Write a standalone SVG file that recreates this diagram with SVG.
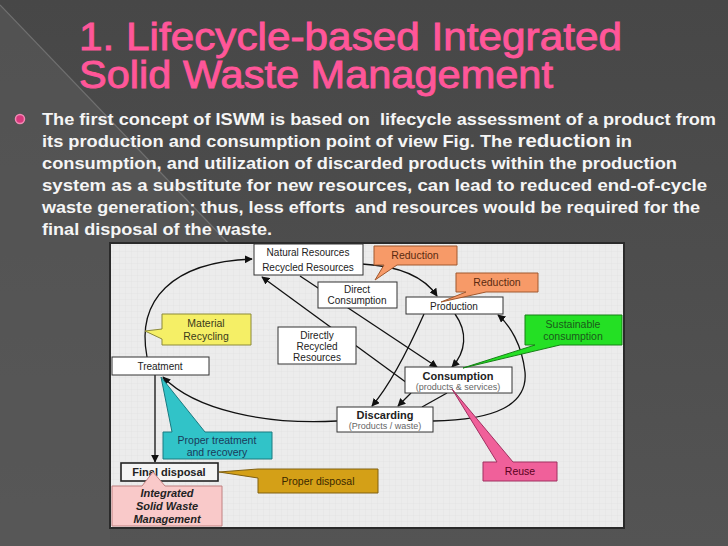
<svg xmlns="http://www.w3.org/2000/svg" width="728" height="546" viewBox="0 0 728 546">
<defs>
  <linearGradient id="bg" x1="0" y1="0" x2="0" y2="1">
    <stop offset="0" stop-color="#474747"/>
    <stop offset="1" stop-color="#545454"/>
  </linearGradient>
  <pattern id="grid" width="6" height="6" patternUnits="userSpaceOnUse">
    <path d="M6,0 V6 M0,6 H6" fill="none" stroke="#dedede" stroke-width="0.6"/>
  </pattern>
  <marker id="ah" viewBox="0 0 10 10" refX="9" refY="5" markerWidth="8" markerHeight="8" markerUnits="userSpaceOnUse" orient="auto">
    <path d="M0,0 L10,5 L0,10 Z" fill="#111"/>
  </marker>
  <style>
    .title{font-family:"Liberation Sans","DejaVu Sans",sans-serif;font-size:38px;fill:#ff5699;stroke:#ff5699;stroke-width:0.9px;}
    .body{font-family:"Liberation Sans","DejaVu Sans",sans-serif;font-size:16.5px;font-weight:bold;fill:#f5f5f5;}
    .box{fill:#ffffff;stroke:#333;stroke-width:1;}
    .t{font-family:"Liberation Sans","DejaVu Sans",sans-serif;font-size:10px;fill:#222;text-anchor:middle;}
    .tb{font-family:"Liberation Sans","DejaVu Sans",sans-serif;font-size:11px;font-weight:bold;fill:#222;text-anchor:middle;}
    .ts{font-family:"Liberation Sans","DejaVu Sans",sans-serif;font-size:9px;fill:#666;text-anchor:middle;}
    .tc{font-family:"Liberation Sans","DejaVu Sans",sans-serif;font-size:10.5px;text-anchor:middle;}
    .conn{fill:none;stroke:#111;stroke-width:1.3;}
  </style>
</defs>

<!-- slide background -->
<rect x="0" y="0" width="728" height="546" fill="url(#bg)"/>
<polygon points="0,5 228,243 110,243 110,546 0,546" fill="#5a5a5a" opacity="0.6"/>
<line x1="0" y1="5" x2="230" y2="245" stroke="#707070" stroke-width="1.2"/>

<!-- title -->
<text class="title" x="79" y="50" textLength="543" lengthAdjust="spacingAndGlyphs">1. Lifecycle-based Integrated</text>
<text class="title" x="79" y="88" textLength="474" lengthAdjust="spacingAndGlyphs">Solid Waste Management</text>

<!-- bullet text -->
<circle cx="20" cy="119" r="4.5" fill="#d8387c" stroke="#f28ab5" stroke-width="1.5"/>
<text class="body" x="42" y="125" textLength="674" lengthAdjust="spacingAndGlyphs" xml:space="preserve">The first concept of ISWM is based on  lifecycle assessment of a product from</text>
<text class="body" x="42" y="147" textLength="590" lengthAdjust="spacingAndGlyphs">its production and consumption point of view Fig. The <tspan font-size="18.5px">reduction</tspan> in</text>
<text class="body" x="42" y="169" textLength="635" lengthAdjust="spacingAndGlyphs">consumption, and utilization of discarded products within the production</text>
<text class="body" x="42" y="191" textLength="665" lengthAdjust="spacingAndGlyphs">system as a substitute for new resources, can lead to reduced end-of-cycle</text>
<text class="body" x="42" y="213" textLength="658" lengthAdjust="spacingAndGlyphs" xml:space="preserve">waste generation; thus, less efforts  and resources would be required for the</text>
<text class="body" x="42" y="235" textLength="230" lengthAdjust="spacingAndGlyphs">final disposal of the waste.</text>

<!-- diagram panel -->
<rect x="110" y="243" width="514" height="285" fill="#ececec" stroke="#2a2a2a" stroke-width="2"/>
<rect x="111" y="244" width="512" height="283" fill="url(#grid)"/>

<!-- connectors -->
<g id="connectors">
  <path class="conn" d="M147,357 C136,300 172,262 252,259" marker-end="url(#ah)"/>
  <path class="conn" d="M362,264 C400,266 425,278 437,296" marker-end="url(#ah)"/>
  <path class="conn" d="M300,276 L437,367" marker-end="url(#ah)"/>
  <path class="conn" d="M407,383 L262,277" marker-end="url(#ah)"/>
  <path class="conn" d="M455,314 C468,332 466,352 452,367" marker-end="url(#ah)"/>
  <path class="conn" d="M424,314 C408,350 390,385 372,406" marker-end="url(#ah)"/>
  <path class="conn" d="M411,393 L398,406" marker-end="url(#ah)"/>
  <path class="conn" d="M447,393 L422,407"/>
  <path class="conn" d="M433,421 C495,420 528,405 525,372 C522,345 510,325 498,315" marker-end="url(#ah)"/>
  <path class="conn" d="M337,421 C265,425 195,410 163,377" marker-end="url(#ah)"/>
  <path class="conn" d="M155,375 L155,462" marker-end="url(#ah)"/>
</g>

<!-- nodes -->
<g id="natural-resources">
  <rect class="box" x="254" y="244" width="109" height="31"/>
  <text class="t" x="308" y="256">Natural Resources</text>
  <text class="t" x="308" y="271">Recycled Resources</text>
</g>
<g id="direct-consumption">
  <rect class="box" x="318" y="282" width="79" height="26"/>
  <text class="t" x="357" y="293">Direct</text>
  <text class="t" x="357" y="304">Consumption</text>
</g>
<g id="production">
  <rect class="box" x="406" y="297" width="97" height="17"/>
  <text class="t" x="454" y="310" font-size="12">Production</text>
</g>
<g id="directly-recycled">
  <rect class="box" x="278" y="327" width="78" height="37"/>
  <text class="t" x="317" y="339">Directly</text>
  <text class="t" x="317" y="350">Recycled</text>
  <text class="t" x="317" y="361">Resources</text>
</g>
<g id="consumption">
  <rect class="box" x="405" y="367" width="107" height="26"/>
  <text class="tb" x="458" y="380">Consumption</text>
  <text class="ts" x="458" y="390">(products &amp; services)</text>
</g>
<g id="discarding">
  <rect class="box" x="337" y="407" width="96" height="25"/>
  <text class="tb" x="385" y="419">Discarding</text>
  <text class="ts" x="385" y="429">(Products / waste)</text>
</g>
<g id="treatment">
  <rect class="box" x="112" y="357" width="97" height="18"/>
  <text class="t" x="160" y="370" font-size="11.5">Treatment</text>
</g>
<g id="final-disposal">
  <rect x="121" y="463" width="97" height="18" fill="#f4f4f4" stroke="#222" stroke-width="1.6"/>
  <text class="tb" x="169" y="476" font-size="10.5">Final disposal</text>
</g>

<!-- callouts -->
<g id="material-recycling">
  <path d="M162,314 H251 V345 H162 V339 L145,331 L162,329 Z" fill="#f5ef66" stroke="#8c8a3a" stroke-width="1"/>
  <text class="tc" x="206" y="327" fill="#3a3a1a">Material</text>
  <text class="tc" x="206" y="340" fill="#3a3a1a">Recycling</text>
</g>
<g id="reduction-1">
  <path d="M374,246 H457 V265 H397 L375,280 L384,265 H374 Z" fill="#f79a68" stroke="#a0582e" stroke-width="1"/>
  <text class="tc" x="415" y="259" fill="#5a2a10" font-size="11">Reduction</text>
</g>
<g id="reduction-2">
  <path d="M456,273 H538 V292 H486 L441,302 L466,292 H456 Z" fill="#f79a68" stroke="#a0582e" stroke-width="1"/>
  <text class="tc" x="497" y="286" fill="#5a2a10" font-size="11">Reduction</text>
</g>
<g id="sustainable-consumption">
  <path d="M525,315 H622 V345 H560 L463,368 L535,345 H525 Z" fill="#24e024" stroke="#168016" stroke-width="1"/>
  <text class="tc" x="573" y="328" fill="#1a5a1a">Sustainable</text>
  <text class="tc" x="573" y="340" fill="#1a5a1a">consumption</text>
</g>
<g id="proper-treatment">
  <path d="M163,432 H172 L161,377 L205,432 H272 V459 H163 Z" fill="#31c3c8" stroke="#1a7a80" stroke-width="1"/>
  <text class="tc" x="217" y="444" fill="#1a3a5a">Proper treatment</text>
  <text class="tc" x="217" y="456" fill="#1a3a5a">and recovery</text>
</g>
<g id="proper-disposal">
  <path d="M258,469 H378 V493 H258 V478 L219,472 Z" fill="#d4a017" stroke="#806010" stroke-width="1"/>
  <text class="tc" x="318" y="485" fill="#3a2800" font-size="11">Proper disposal</text>
</g>
<g id="iswm">
  <path d="M112,486 H142 L153,472 L165,486 H222 V526 H112 Z" fill="#f9c9c9" stroke="#c08080" stroke-width="1"/>
  <text class="tb" x="167" y="497" font-style="italic">Integrated</text>
  <text class="tb" x="167" y="510" font-style="italic">Solid Waste</text>
  <text class="tb" x="167" y="523" font-style="italic">Management</text>
</g>
<g id="reuse">
  <path d="M483,462 H497 L452,389 L513,462 H557 V481 H483 Z" fill="#f0609a" stroke="#a03060" stroke-width="1"/>
  <text class="tc" x="520" y="475" fill="#5a0020" font-size="11">Reuse</text>
</g>
</svg>
